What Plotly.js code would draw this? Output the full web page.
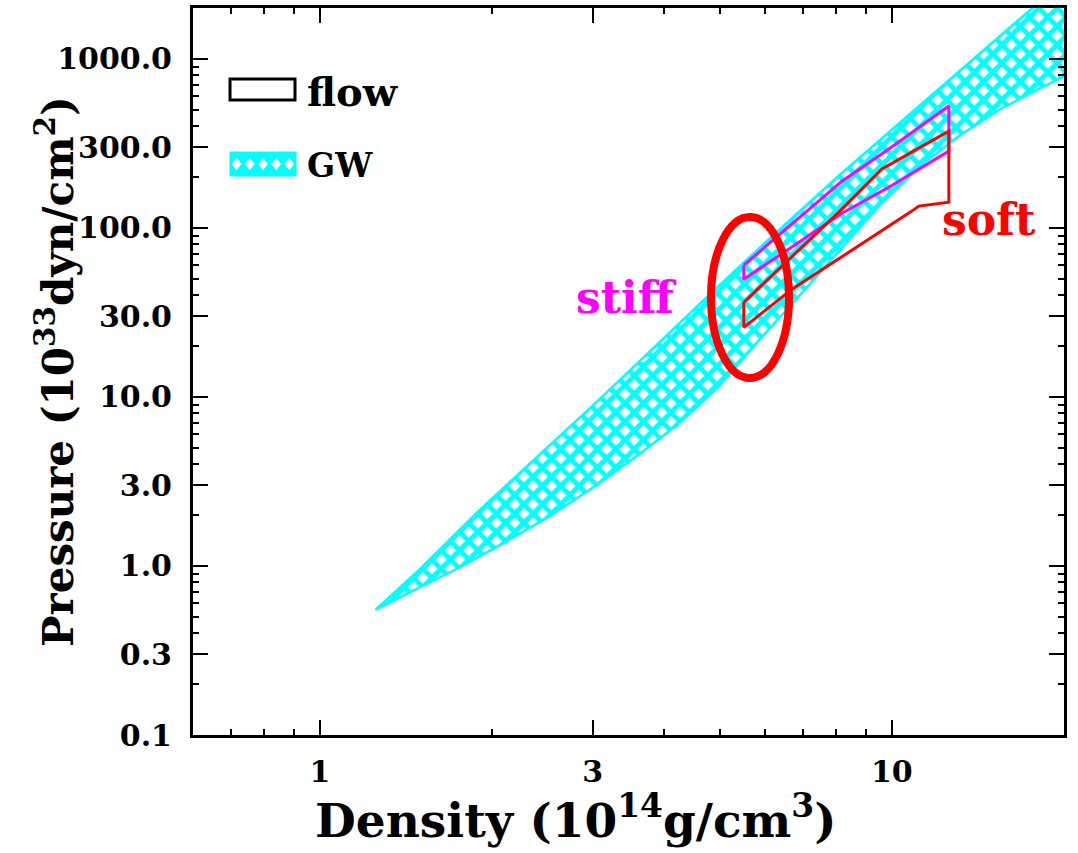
<!DOCTYPE html>
<html>
<head>
<meta charset="utf-8">
<script src="https://cdn.plot.ly/plotly-3.0.1.min.js"></script>
<style>
  html, body { margin: 0; padding: 0; background: #fff; }
  #chart { width: 1078px; height: 853px; }
</style>
</head>
<body>
<div id="chart"></div>
<script>
// ---- Data (density in 1e14 g/cm^3, pressure in 1e33 dyn/cm^2) ----
const gwUpperDensity  = [1.25, 1.489, 1.897, 2.415, 2.989, 3.760, 4.787, 6.095, 8.078, 10.28, 13.10, 16.67, 21.23];
const gwUpperPressure = [0.55, 0.945, 2.125, 4.501, 8.786, 18.35, 39.96, 85.8, 203.4, 413, 838.6, 1703, 3456];
const gwLowerDensity  = [1.25, 1.374, 1.551, 1.750, 2.056, 2.514, 3.074, 3.612, 4.243, 4.984, 5.853, 6.878, 8.078, 9.49, 11.15, 13.10, 15.38, 18.07, 21.23];
const gwLowerPressure = [0.55, 0.648, 0.796, 0.976, 1.318, 1.958, 3.072, 4.563, 6.966, 11.54, 21.61, 39.4, 72.8, 134.6, 229.1, 349.7, 498.6, 664, 872.5];

const stiffDensity  = [5.51, 8.18, 9.88, 12.58, 12.58, 9.88, 8.18, 5.51, 5.51];
const stiffPressure = [60.2, 189, 293, 526, 285, 174, 122, 49.7, 60.2];

const softDensity  = [5.51, 6.53, 8.08, 9.61, 12.58, 12.58, 11.15, 10.84, 6.69, 5.51, 5.51];
const softPressure = [36.3, 62.7, 124, 223, 374, 142, 134.6, 125.7, 43.4, 25.8, 36.3];

const xTickVals  = [1, 3, 10];
const xTickText  = ['1', '3', '10'];
const xMinorVals = [0.7, 0.8, 0.9, 2, 4, 5, 6, 7, 8, 9, 20];
const yTickVals  = [0.1, 0.3, 1, 3, 10, 30, 100, 300, 1000];
const yTickText  = ['0.1', '0.3', '1.0', '3.0', '10.0', '30.0', '100.0', '300.0', '1000.0'];
const yMinorVals = [0.2, 0.4, 0.5, 0.6, 0.7, 0.8, 0.9,
                    2, 4, 5, 6, 7, 8, 9,
                    20, 40, 50, 60, 70, 80, 90,
                    200, 400, 500, 600, 700, 800, 900, 2000];

// ---- Build traces ----
const gwX = gwUpperDensity.concat(gwLowerDensity.slice().reverse());
const gwY = gwUpperPressure.concat(gwLowerPressure.slice().reverse());

const CYAN = '#00ffff';
const traces = [
  {
    x: gwX, y: gwY, type: 'scatter', mode: 'lines', fill: 'toself',
    fillcolor: 'rgba(255,255,255,1)',
    fillpattern: { shape: 'x', fgcolor: CYAN, bgcolor: '#ffffff', size: 13, solidity: 0.62 },
    line: { color: CYAN, width: 2.5 }, showlegend: false, hoverinfo: 'skip'
  },
  {
    x: stiffDensity, y: stiffPressure, type: 'scatter', mode: 'lines',
    line: { color: '#ff00ff', width: 3 }, showlegend: false, hoverinfo: 'skip'
  },
  {
    x: softDensity, y: softPressure, type: 'scatter', mode: 'lines',
    line: { color: '#ff0000', width: 3 }, showlegend: false, hoverinfo: 'skip'
  }
];

const tickFont = { family: 'DejaVu Serif', size: 30, color: '#000', weight: 'bold' };

const layout = {
  width: 1078, height: 853,
  margin: { l: 193, r: 14, t: 8, b: 118 },
  paper_bgcolor: '#fff', plot_bgcolor: '#fff',
  showlegend: false,
  xaxis: {
    type: 'log', range: [Math.log10(0.6), Math.log10(20)],
    showgrid: false, zeroline: false,
    showline: true, linecolor: '#000', linewidth: 3, mirror: 'allticks',
    ticks: 'inside', ticklen: 15, tickwidth: 2, tickcolor: '#000',
    tickmode: 'array', tickvals: xTickVals, ticktext: xTickText,
    tickfont: tickFont, ticklabelstandoff: 8,
    minor: { tickmode: 'array', tickvals: xMinorVals, ticks: 'inside', ticklen: 6, tickwidth: 2, tickcolor: '#000', showgrid: false }
  },
  yaxis: {
    type: 'log', range: [-1, Math.log10(2000)],
    showgrid: false, zeroline: false,
    showline: true, linecolor: '#000', linewidth: 3, mirror: 'allticks',
    ticks: 'inside', ticklen: 15, tickwidth: 2, tickcolor: '#000',
    tickmode: 'array', tickvals: yTickVals, ticktext: yTickText,
    tickfont: tickFont, ticklabelstandoff: 12,
    minor: { tickmode: 'array', tickvals: yMinorVals, ticks: 'inside', ticklen: 6, tickwidth: 2, tickcolor: '#000', showgrid: false }
  },
  shapes: [
    // highlight ellipse
    { type: 'circle', xref: 'paper', yref: 'paper', x0: 0.5947, x1: 0.6843, y0: 0.4911, y1: 0.7125,
      line: { color: '#ff0000', width: 8 }, fillcolor: 'rgba(0,0,0,0)' },
    // legend key: flow
    { type: 'rect', xref: 'paper', yref: 'paper', x0: 0.0425, x1: 0.1171, y0: 0.8735, y1: 0.9023,
      line: { color: '#000', width: 3 }, fillcolor: 'rgba(0,0,0,0)' },
    // legend key: GW
    { type: 'rect', xref: 'paper', yref: 'paper', x0: 0.0425, x1: 0.1183, y0: 0.7689, y1: 0.8019,
      line: { color: CYAN, width: 1 }, fillcolor: CYAN }
  ],
  annotations: [
    // axis titles
    { xref: 'paper', yref: 'paper', x: 0.4397, y: -0.1128, xanchor: 'center', yanchor: 'middle',
      text: 'Density (10<sup>14</sup>g/cm<sup>3</sup>)', showarrow: false,
      font: { family: 'DejaVu Serif', size: 47, color: '#000', weight: 'bold' } },
    { xref: 'paper', yref: 'paper', x: -0.1584, y: 0.4993, xanchor: 'center', yanchor: 'middle', textangle: -90,
      text: 'Pressure (10<sup>33</sup>dyn/cm<sup>2</sup>)', showarrow: false,
      font: { family: 'DejaVu Serif', size: 42, color: '#000', weight: 'bold' } },
    // legend labels
    { xref: 'paper', yref: 'paper', x: 0.1286, y: 0.8845, xanchor: 'left', yanchor: 'middle',
      text: 'flow', showarrow: false, font: { family: 'DejaVu Serif', size: 40, color: '#000', weight: 'bold' } },
    { xref: 'paper', yref: 'paper', x: 0.1286, y: 0.784, xanchor: 'left', yanchor: 'middle',
      text: 'GW', showarrow: false, font: { family: 'DejaVu Serif', size: 33, color: '#000', weight: 'bold' } },
    // curve labels (log10 coordinates on log axes)
    { xref: 'x', yref: 'y', x: 0.5367, y: 1.5896, xanchor: 'center', yanchor: 'middle',
      text: 'stiff', showarrow: false, font: { family: 'DejaVu Serif', size: 44, color: '#ff00ff', weight: 'bold' } },
    { xref: 'x', yref: 'y', x: 1.1696, y: 2.0519, xanchor: 'center', yanchor: 'middle',
      text: 'soft', showarrow: false, font: { family: 'DejaVu Serif', size: 44, color: '#ff0000', weight: 'bold' } }
  ]
};

// white diamonds for the GW legend key (hatch look)
(function () {
  const x0 = 0.0425, x1 = 0.1183, y0 = 0.7689, y1 = 0.8019;
  const n = 5, dx = (x1 - x0) / n, hw = 0.0055, hh = 0.0085;
  const yc = (y0 + y1) / 2;
  for (let i = 0; i < n; i++) {
    const xc = x0 + dx * (i + 0.5);
    layout.shapes.push({
      type: 'path', xref: 'paper', yref: 'paper',
      path: `M${xc - hw},${yc} L${xc},${yc + hh} L${xc + hw},${yc} L${xc},${yc - hh} Z`,
      fillcolor: '#fff', line: { width: 0 }
    });
  }
})();

Plotly.newPlot('chart', traces, layout, { displayModeBar: false, staticPlot: true });
</script>
</body>
</html>
